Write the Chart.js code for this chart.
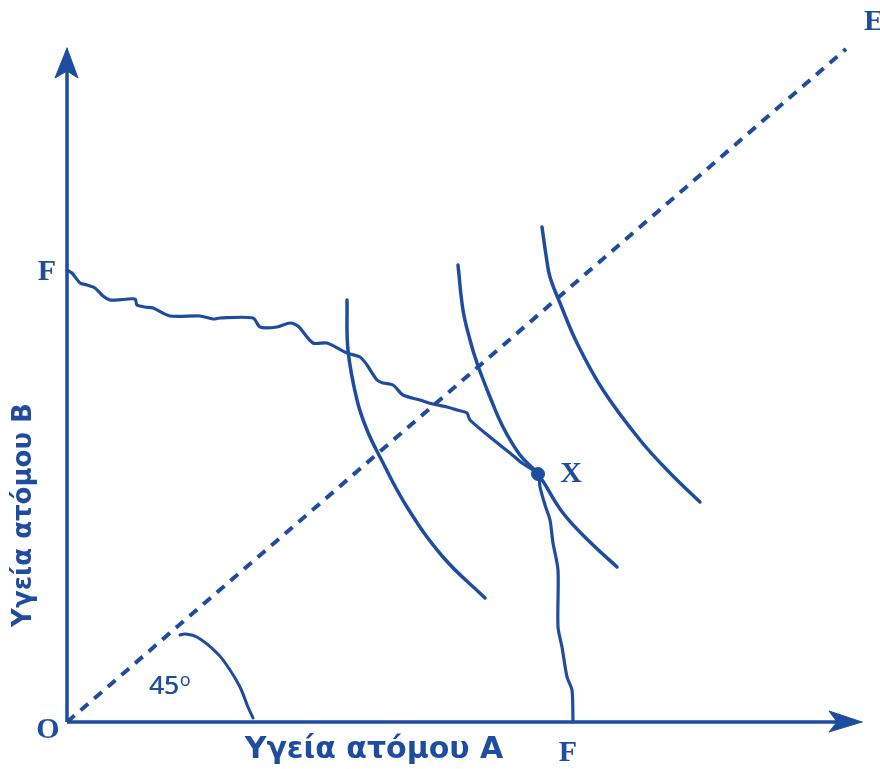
<!DOCTYPE html>
<html lang="el">
<head>
<meta charset="utf-8">
<title>Υγεία ατόμου A – Υγεία ατόμου B</title>
<script src="https://cdn.jsdelivr.net/npm/chart.js@4.4.1/dist/chart.umd.min.js"></script>
<style>
    html, body { margin: 0; padding: 0; background: #ffffff; }
    #chart { display: block; }
</style>
</head>
<body>
<canvas id="chart" width="880" height="769"></canvas>
<script>
// Diagram units: origin O at (0,0), x = health of A, y = health of B
const frontierFF = [
    { x: 0, y: 452 }, { x: 5, y: 449 }, { x: 13, y: 439 }, { x: 20, y: 437 },
    { x: 28, y: 434 }, { x: 36, y: 426 }, { x: 43, y: 422 }, { x: 50, y: 422 },
    { x: 68, y: 423 }, { x: 70, y: 417 }, { x: 78, y: 415 }, { x: 86, y: 414 },
    { x: 103, y: 406 }, { x: 133, y: 406 }, { x: 146, y: 403 }, { x: 153, y: 404 },
    { x: 186, y: 404 }, { x: 193, y: 395 }, { x: 210, y: 395 }, { x: 223, y: 399 },
    { x: 231, y: 396 }, { x: 246, y: 379 }, { x: 260, y: 379 }, { x: 280, y: 369 },
    { x: 293, y: 365 }, { x: 300, y: 357 }, { x: 310, y: 342 }, { x: 316, y: 339 },
    { x: 326, y: 337 }, { x: 336, y: 327 }, { x: 353, y: 322 }, { x: 366, y: 318 },
    { x: 380, y: 315 }, { x: 390, y: 312 }, { x: 400, y: 309 }, { x: 403, y: 302 },
    { x: 423, y: 285 }, { x: 443, y: 269 }, { x: 455, y: 259 }, { x: 471, y: 248 },
    { x: 473, y: 235 }, { x: 478, y: 217 }, { x: 483, y: 202 }, { x: 486, y: 179 },
    { x: 491, y: 152 }, { x: 491, y: 95 }, { x: 495, y: 75 }, { x: 500, y: 45 },
    { x: 505, y: 32 }, { x: 506, y: 0 }
];

const indiff1 = [
    { x: 280, y: 422 }, { x: 281, y: 372 }, { x: 290, y: 322 }, { x: 300, y: 292 },
    { x: 313, y: 265 }, { x: 340, y: 215 }, { x: 376, y: 165 }, { x: 418, y: 124 }
];
const indiff2 = [
    { x: 391, y: 457 }, { x: 396, y: 412 }, { x: 403, y: 382 }, { x: 410, y: 359 },
    { x: 423, y: 325 }, { x: 436, y: 295 }, { x: 453, y: 267 }, { x: 471, y: 248 },
    { x: 496, y: 209 }, { x: 523, y: 180 }, { x: 550, y: 155 }
];
const indiff3 = [
    { x: 475, y: 495 }, { x: 479, y: 467 }, { x: 483, y: 445 }, { x: 493, y: 419 },
    { x: 510, y: 379 }, { x: 536, y: 332 }, { x: 573, y: 282 }, { x: 603, y: 249 },
    { x: 633, y: 220 }
];

const equalityLine = [{ x: 0, y: 0 }, { x: 779, y: 673 }];
const angleArc = [
    { x: 113, y: 87 }, { x: 118, y: 88 }, { x: 130, y: 85 }, { x: 150, y: 69 },
    { x: 163, y: 52 }, { x: 173, y: 35 }, { x: 181, y: 15 }, { x: 186, y: 4 }
];
const pointX = [{ x: 471, y: 248 }];

const axisB = [{ x: 0, y: 0 }, { x: 0, y: 655 }];
const axisA = [{ x: 0, y: 0 }, { x: 775, y: 0 }];
const arrowB = [{ x: 0, y: 674 }, { x: -12, y: 644 }, { x: 0, y: 651 }, { x: 11, y: 644 }, { x: 0, y: 674 }];
const arrowA = [{ x: 795, y: 0 }, { x: 762, y: 11 }, { x: 770, y: 0 }, { x: 762, y: -10 }, { x: 795, y: 0 }];

// text labels: [text, x, y]
const pointLabels = [
    ['F', -20, 450],
    ['O', -19, -8],
    ['F', 501, -31],
    ['X', 504, 248],
    ['E', 807, 700]
];
const axisTitleA = 'Υγεία ατόμου A';
const axisTitleB = 'Υγεία ατόμου B';

const BLUE = '#1e4d9f';

function curve(data, extra) {
    return Object.assign({
        data: data,
        showLine: true,
        borderColor: BLUE,
        backgroundColor: BLUE,
        borderWidth: 3.5,
        pointRadius: 0,
        pointHoverRadius: 0,
        borderCapStyle: 'round',
        borderJoinStyle: 'round',
        fill: false,
        tension: 0
    }, extra || {});
}

const labelsPlugin = {
    id: 'diagramLabels',
    afterDatasetsDraw(chart) {
        const ctx = chart.ctx;
        const xs = chart.scales.x;
        const ys = chart.scales.y;
        ctx.save();
        ctx.fillStyle = BLUE;
        ctx.textAlign = 'center';
        ctx.textBaseline = 'middle';

        ctx.font = 'bold 30px "Liberation Serif", "DejaVu Serif", serif';
        pointLabels.forEach(([text, x, y]) => {
            ctx.fillText(text, xs.getPixelForValue(x), ys.getPixelForValue(y));
        });

        // angle mark 45 with raised small o
        ctx.font = '26px "Noto Sans", sans-serif';
        ctx.textAlign = 'left';
        const ax = xs.getPixelForValue(82);
        const ay = ys.getPixelForValue(35);
        ctx.fillText('45', ax, ay);
        ctx.fillText('45', ax + 0.6, ay);
        const w45 = ctx.measureText('45').width;
        ctx.font = '18px "Noto Sans", sans-serif';
        ctx.fillText('o', ax + w45 + 1, ay - 6);

        // axis titles
        ctx.font = 'bold 30px "DejaVu Sans", "Noto Sans", sans-serif';
        ctx.textAlign = 'center';
        ctx.fillText(axisTitleA, xs.getPixelForValue(307), ys.getPixelForValue(-28));

        ctx.translate(xs.getPixelForValue(-43), ys.getPixelForValue(207));
        ctx.rotate(-Math.PI / 2);
        ctx.font = 'bold 26px "DejaVu Sans", "Noto Sans", sans-serif';
        ctx.fillText(axisTitleB, 0, 0);
        ctx.restore();
    }
};

new Chart(document.getElementById('chart'), {
    type: 'scatter',
    data: {
        datasets: [
            curve(axisB, { borderCapStyle: 'butt', borderWidth: 3.5 }),
            curve(axisA, { borderCapStyle: 'butt', borderWidth: 3.5 }),
            curve(arrowB, { fill: 'shape', borderWidth: 1 }),
            curve(arrowA, { fill: 'shape', borderWidth: 1 }),
            curve(equalityLine, { borderDash: [10, 8], borderWidth: 4, borderCapStyle: 'butt' }),
            curve(angleArc, { tension: 0.4, borderWidth: 3 }),
            curve(frontierFF, { borderWidth: 3.2, tension: 0.25 }),
            curve(indiff1, { tension: 0.4 }),
            curve(indiff2, { tension: 0.4 }),
            curve(indiff3, { tension: 0.4 }),
            {
                data: pointX,
                showLine: false,
                pointRadius: 6.5,
                pointHoverRadius: 6.5,
                pointBackgroundColor: BLUE,
                pointBorderColor: BLUE
            }
        ]
    },
    options: {
        responsive: false,
        devicePixelRatio: 1,
        animation: false,
        layout: { padding: 0, autoPadding: false },
        plugins: {
            legend: { display: false },
            tooltip: { enabled: false },
            title: { display: false }
        },
        scales: {
            x: { type: 'linear', display: false, min: -67, max: 813 },
            y: { type: 'linear', display: false, min: -47, max: 722 }
        }
    },
    plugins: [labelsPlugin]
});
</script>
</body>
</html>
